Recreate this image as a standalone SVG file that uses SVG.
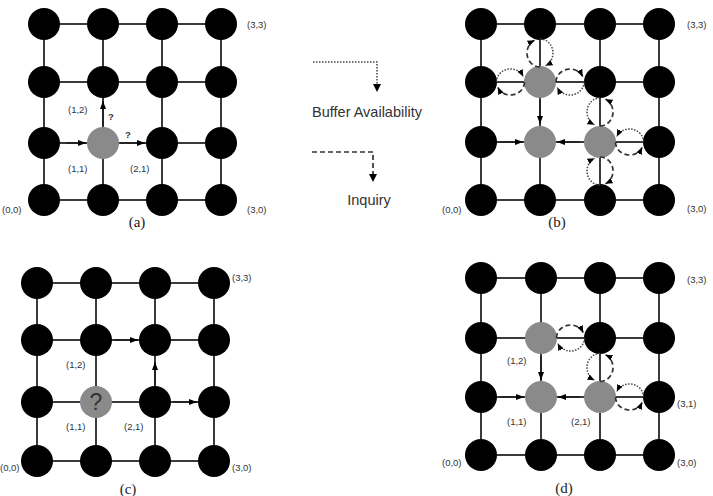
<svg xmlns="http://www.w3.org/2000/svg" xmlns:xlink="http://www.w3.org/1999/xlink" width="713" height="496" viewBox="0 0 713 496">
<style>
.grid{stroke:#3a3a3a;stroke-width:2;fill:none}
.n{fill:#000}
.g{fill:#8a8a8a}
.arr{stroke:#222;stroke-width:1.8;fill:none}
.inq{stroke:#333;stroke-width:1.7;fill:none;stroke-dasharray:5 3}
.buf{stroke:#444;stroke-width:1.5;fill:none;stroke-dasharray:1.5 1.5}
.lbl{font-family:"Liberation Sans",Arial,sans-serif;font-size:9.5px;fill:#333}
.cap{font-family:"Liberation Serif","Times New Roman",serif;font-size:15px;fill:#222}
.leg{font-family:"Liberation Sans",Arial,sans-serif;font-size:14.5px;fill:#333}
.q{font-family:"Liberation Sans",Arial,sans-serif;font-size:9.5px;fill:#333;font-weight:bold}
</style>
<defs>
<marker id="ah" viewBox="0 0 8 6" refX="8" refY="3" markerWidth="8" markerHeight="6" markerUnits="userSpaceOnUse" orient="auto"><path d="M0,0 L8,3 L0,6 z" fill="#000"/></marker>
<marker id="ahs" viewBox="0 0 7 6" refX="7" refY="3" markerWidth="7" markerHeight="6" markerUnits="userSpaceOnUse" orient="auto"><path d="M0,0 L7,3 L0,6 z" fill="#000"/></marker>
<g id="loop">
<path class="inq" d="M -14 0 A 14 13 0 0 1 12.69 -5.49" marker-end="url(#ahs)"/>
<path class="buf" d="M 14 0 A 14 13 0 0 1 -12.69 5.49" marker-end="url(#ahs)"/>
</g>
</defs>
<rect width="713" height="496" fill="#fff"/>

<g id="connectors">
<path class="grid" d="M44 24H221M44 82H221M44 143H221M44 200H221M44 24V200M103 24V200M162 24V200M221 24V200"/>
<path class="grid" d="M481 24H659M481 82H659M481 142H659M481 200H659M481 24V200M540 24V200M600 24V200M659 24V200"/>
<path class="grid" d="M37 283H214M37 340H214M37 402H214M37 461H214M37 283V461M96 283V461M155 283V461M214 283V461"/>
<path class="grid" d="M481 278H659M481 338H659M481 397H659M481 455H659M481 278V455M541 278V455M600 278V455M659 278V455"/>

<path class="arr" d="M66 143H86" marker-end="url(#ah)"/>
<path class="arr" d="M120 143H145" marker-end="url(#ah)"/>
<path class="arr" d="M103 126V101" marker-end="url(#ah)"/>

<path class="arr" d="M500 142H523" marker-end="url(#ah)"/>
<path class="arr" d="M580 142H557" marker-end="url(#ah)"/>
<path class="arr" d="M540 100V124" marker-end="url(#ah)"/>

<path class="arr" d="M114 340H138" marker-end="url(#ah)"/>
<path class="arr" d="M155 385V362" marker-end="url(#ah)"/>
<path class="arr" d="M173 402H197" marker-end="url(#ah)"/>

<path class="arr" d="M500 397H524" marker-end="url(#ah)"/>
<path class="arr" d="M580 397H558" marker-end="url(#ah)"/>
<path class="arr" d="M541 356V380" marker-end="url(#ah)"/>

<path class="buf" d="M313 62H377V85"/>
<path d="M373 84L377 92L381 84z" fill="#000"/>
<path class="inq" d="M312 152H373V175"/>
<path d="M369 174L373 182L377 174z" fill="#000"/>
</g>

<g id="nodes-a">
<circle class="n" cx="44" cy="24" r="16"/><circle class="n" cx="103" cy="24" r="16"/><circle class="n" cx="162" cy="24" r="16"/><circle class="n" cx="221" cy="24" r="16"/>
<circle class="n" cx="44" cy="82" r="16"/><circle class="n" cx="103" cy="82" r="16"/><circle class="n" cx="162" cy="82" r="16"/><circle class="n" cx="221" cy="82" r="16"/>
<circle class="n" cx="44" cy="143" r="16"/><circle class="g" cx="103" cy="143" r="16"/><circle class="n" cx="162" cy="143" r="16"/><circle class="n" cx="221" cy="143" r="16"/>
<circle class="n" cx="44" cy="200" r="16"/><circle class="n" cx="103" cy="200" r="16"/><circle class="n" cx="162" cy="200" r="16"/><circle class="n" cx="221" cy="200" r="16"/>
</g>
<g id="nodes-b">
<circle class="n" cx="481" cy="24" r="16"/><circle class="n" cx="540" cy="24" r="16"/><circle class="n" cx="600" cy="24" r="16"/><circle class="n" cx="659" cy="24" r="16"/>
<circle class="n" cx="481" cy="82" r="16"/><circle class="g" cx="540" cy="82" r="16"/><circle class="n" cx="600" cy="82" r="16"/><circle class="n" cx="659" cy="82" r="16"/>
<circle class="n" cx="481" cy="142" r="16"/><circle class="g" cx="540" cy="142" r="16"/><circle class="g" cx="600" cy="142" r="16"/><circle class="n" cx="659" cy="142" r="16"/>
<circle class="n" cx="481" cy="200" r="16"/><circle class="n" cx="540" cy="200" r="16"/><circle class="n" cx="600" cy="200" r="16"/><circle class="n" cx="659" cy="200" r="16"/>
</g>
<g id="nodes-c">
<circle class="n" cx="37" cy="283" r="16"/><circle class="n" cx="96" cy="283" r="16"/><circle class="n" cx="155" cy="283" r="16"/><circle class="n" cx="214" cy="283" r="16"/>
<circle class="n" cx="37" cy="340" r="16"/><circle class="n" cx="96" cy="340" r="16"/><circle class="n" cx="155" cy="340" r="16"/><circle class="n" cx="214" cy="340" r="16"/>
<circle class="n" cx="37" cy="402" r="16"/><circle class="g" cx="96" cy="402" r="16"/><circle class="n" cx="155" cy="402" r="16"/><circle class="n" cx="214" cy="402" r="16"/>
<circle class="n" cx="37" cy="461" r="16"/><circle class="n" cx="96" cy="461" r="16"/><circle class="n" cx="155" cy="461" r="16"/><circle class="n" cx="214" cy="461" r="16"/>
<text x="96" y="410" text-anchor="middle" font-family="Liberation Sans,Arial,sans-serif" font-size="23" fill="#333">?</text>
</g>
<g id="nodes-d">
<circle class="n" cx="481" cy="278" r="16"/><circle class="n" cx="541" cy="278" r="16"/><circle class="n" cx="600" cy="278" r="16"/><circle class="n" cx="659" cy="278" r="16"/>
<circle class="n" cx="481" cy="338" r="16"/><circle class="g" cx="541" cy="338" r="16"/><circle class="n" cx="600" cy="338" r="16"/><circle class="n" cx="659" cy="338" r="16"/>
<circle class="n" cx="481" cy="397" r="16"/><circle class="g" cx="541" cy="397" r="16"/><circle class="g" cx="600" cy="397" r="16"/><circle class="n" cx="659" cy="397" r="16"/>
<circle class="n" cx="481" cy="455" r="16"/><circle class="n" cx="541" cy="455" r="16"/><circle class="n" cx="600" cy="455" r="16"/><circle class="n" cx="659" cy="455" r="16"/>
</g>

<g id="loops">
<use xlink:href="#loop" transform="translate(540,53) rotate(-90)"/>
<use xlink:href="#loop" transform="translate(510.5,82) rotate(180)"/>
<use xlink:href="#loop" transform="translate(570,82)"/>
<use xlink:href="#loop" transform="matrix(0,-1,-1,0,600,112)"/>
<use xlink:href="#loop" transform="matrix(1,0,0,-1,629.5,142)"/>
<use xlink:href="#loop" transform="translate(600,171) rotate(90)"/>
<use xlink:href="#loop" transform="translate(570.5,338)"/>
<use xlink:href="#loop" transform="matrix(0,-1,-1,0,600,367.5)"/>
<use xlink:href="#loop" transform="matrix(1,0,0,-1,629.5,397)"/>
</g>

<g id="labels">
<text class="lbl" x="247" y="28">(3,3)</text>
<text class="lbl" x="247" y="213">(3,0)</text>
<text class="lbl" x="2" y="213">(0,0)</text>
<text class="lbl" x="68" y="113">(1,2)</text>
<text class="lbl" x="68" y="172">(1,1)</text>
<text class="lbl" x="130" y="172">(2,1)</text>
<text class="q" x="108" y="120">?</text>
<text class="q" x="125" y="138">?</text>
<text class="cap" x="137" y="227" text-anchor="middle">(a)</text>

<text class="lbl" x="687" y="28">(3,3)</text>
<text class="lbl" x="687" y="212">(3,0)</text>
<text class="lbl" x="442" y="213">(0,0)</text>
<text class="cap" x="557" y="227" text-anchor="middle">(b)</text>

<text class="lbl" x="232" y="281">(3,3)</text>
<text class="lbl" x="232" y="471">(3,0)</text>
<text class="lbl" x="0" y="471">(0,0)</text>
<text class="lbl" x="66" y="368">(1,2)</text>
<text class="lbl" x="66" y="430">(1,1)</text>
<text class="lbl" x="124" y="430">(2,1)</text>
<text class="cap" x="128" y="494" text-anchor="middle">(c)</text>

<text class="lbl" x="687" y="283">(3,3)</text>
<text class="lbl" x="677" y="407">(3,1)</text>
<text class="lbl" x="677" y="466">(3,0)</text>
<text class="lbl" x="442" y="466">(0,0)</text>
<text class="lbl" x="507" y="364">(1,2)</text>
<text class="lbl" x="507" y="425">(1,1)</text>
<text class="lbl" x="571" y="425">(2,1)</text>
<text class="cap" x="564" y="493" text-anchor="middle">(d)</text>

<text class="leg" x="367" y="117" text-anchor="middle">Buffer Availability</text>
<text class="leg" x="369" y="205" text-anchor="middle">Inquiry</text>
</g>
</svg>
